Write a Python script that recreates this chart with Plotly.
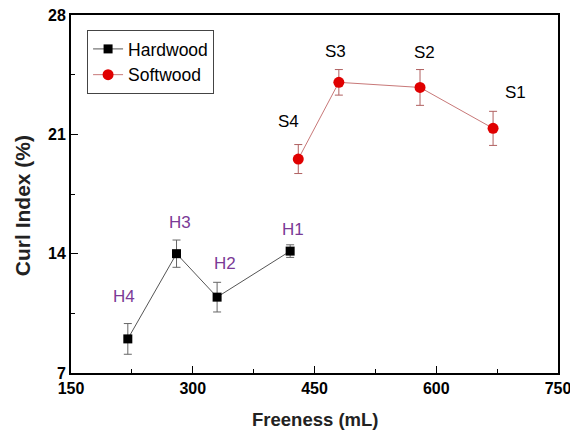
import plotly.graph_objects as go

# Data
hard_freeness = [220, 280, 330, 420]
hard_curl = [9.0, 14.0, 11.45, 14.15]
hard_err = [0.9, 0.8, 0.87, 0.37]
hard_labels = ["H4", "H3", "H2", "H1"]

soft_freeness = [430, 480, 580, 670]
soft_curl = [19.55, 24.05, 23.75, 21.35]
soft_err = [0.85, 0.75, 1.05, 1.0]
soft_labels = ["S4", "S3", "S2", "S1"]

x_ticks = [150, 300, 450, 600, 750]
y_ticks = [7, 14, 21, 28]

fig = go.Figure()
fig.add_trace(go.Scatter(
    x=hard_freeness, y=hard_curl, name="Hardwood", mode="lines+markers",
    line=dict(color="#555555", width=1),
    marker=dict(symbol="square", size=9, color="black"),
    error_y=dict(type="data", array=hard_err, color="#666666", thickness=1, width=4),
))
fig.add_trace(go.Scatter(
    x=soft_freeness, y=soft_curl, name="Softwood", mode="lines+markers",
    line=dict(color="#C87878", width=1),
    marker=dict(symbol="circle", size=11, color="#E00000"),
    error_y=dict(type="data", array=soft_err, color="#B06060", thickness=1, width=4),
))

hard_offsets = [(-4, 42), (3, 31), (8, 34), (3, 22)]
soft_offsets = [(-10, 38), (-3, 31), (4, 35), (22, 36)]
for xv, yv, lab, (dx, dy) in zip(hard_freeness, hard_curl, hard_labels, hard_offsets):
    fig.add_annotation(x=xv, y=yv, text=lab, showarrow=False, xshift=dx, yshift=dy,
                       font=dict(family="Arial", size=17, color="#7B3A96"))
for xv, yv, lab, (dx, dy) in zip(soft_freeness, soft_curl, soft_labels, soft_offsets):
    fig.add_annotation(x=xv, y=yv, text=lab, showarrow=False, xshift=dx, yshift=dy,
                       font=dict(family="Arial", size=17, color="black"))

# axis titles
fig.add_annotation(xref="paper", yref="paper", x=0.5, y=-0.131, yanchor="middle",
                   text="<b>Freeness (mL)</b>", showarrow=False,
                   font=dict(family="Arial", size=18.5, color="#222"))
fig.add_annotation(xref="paper", yref="paper", x=-0.1006, y=0.466, xanchor="center",
                   text="<b>Curl Index (%)</b>", showarrow=False, textangle=-90,
                   font=dict(family="Arial", size=21, color="#222"))

axis_common = dict(
    showline=True, linecolor="black", linewidth=2, mirror=True,
    ticks="inside", ticklen=7, tickwidth=1.3, tickcolor="black",
    showgrid=False, zeroline=False, automargin=False, ticklabeloverflow="allow",
    tickfont=dict(family="Arial", size=16, color="black", weight="bold"),
)
fig.update_xaxes(range=[150, 750], tickvals=x_ticks,
                 minor=dict(ticks="inside", ticklen=4, dtick=75, tickcolor="black"),
                 **axis_common)
fig.update_yaxes(range=[7, 28], tickvals=y_ticks,
                 minor=dict(ticks="inside", ticklen=4, dtick=3.5, tickcolor="black"),
                 **axis_common)

fig.update_layout(
    width=570, height=433,
    margin=dict(l=71, r=12, t=15, b=60),
    plot_bgcolor="white", paper_bgcolor="white",
    font=dict(family="Arial", color="black"),
    legend=dict(x=0.033, y=0.958, xanchor="left", yanchor="top",
                bordercolor="#444", borderwidth=1, bgcolor="white",
                font=dict(family="Arial", size=17.5, color="black"),
                tracegroupgap=0),
)

fig.write_html("out.html", config={"displayModeBar": False},
               post_script="document.body.style.margin='0px';")
